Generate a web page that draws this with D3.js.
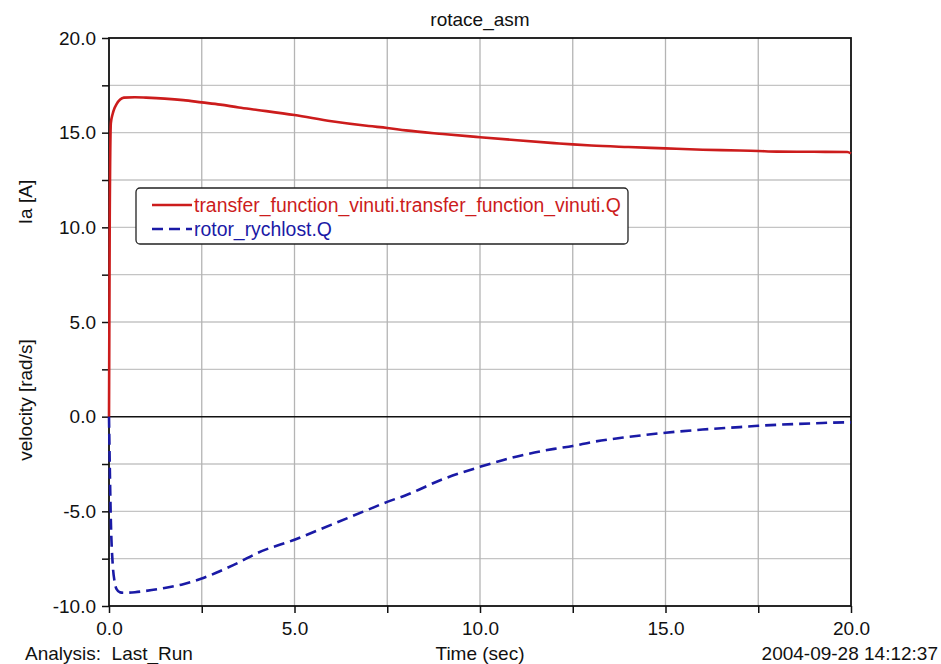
<!DOCTYPE html>
<html>
<head>
<meta charset="utf-8">
<script src="https://cdn.jsdelivr.net/npm/d3@7"></script>
<style>
  body { margin: 0; background: #fff; }
  text { font-family: "Liberation Sans", Arial, sans-serif; fill: #111; }
</style>
</head>
<body>
<div id="chart"></div>
<script>
// time samples (sec)
let time = [0, 0.02, 0.05, 0.1, 0.15, 0.2, 0.3, 0.4, 0.7, 1.0, 1.5, 2.0, 2.5, 3.0, 3.5, 4.0, 5.0, 6.0, 7.0, 7.5, 8.0, 9.0, 10.0, 11.0, 12.0, 12.5, 13.0, 14.0, 15.0, 16.0, 17.0, 17.5, 18.0, 19.0, 19.9, 20.0]
// Ia [A]
let current = [0, 10.5, 15.5, 16.0, 16.3, 16.5, 16.75, 16.85, 16.87, 16.85, 16.8, 16.72, 16.6, 16.48, 16.33, 16.2, 15.93, 15.6, 15.35, 15.25, 15.12, 14.93, 14.76, 14.6, 14.45, 14.38, 14.32, 14.24, 14.17, 14.1, 14.06, 14.03, 14.0, 13.99, 13.98, 13.9]
// velocity [rad/s]
let velocity = [0, -2.5, -5.5, -7.8, -8.7, -9.1, -9.28, -9.3, -9.27, -9.2, -9.05, -8.85, -8.55, -8.15, -7.7, -7.2, -6.5, -5.7, -4.9, -4.5, -4.15, -3.3, -2.65, -2.1, -1.7, -1.55, -1.35, -1.07, -0.85, -0.68, -0.55, -0.48, -0.43, -0.35, -0.3, -0.3]

let xTicks = [0, 5, 10, 15, 20]
let yTicks = [-10, -5, 0, 5, 10, 15, 20]

let series = [
  { name: 'transfer_function_vinuti.transfer_function_vinuti.Q', values: current, color: '#cc1c1c', dash: null },
  { name: 'rotor_rychlost.Q', values: velocity, color: '#1a1aa6', dash: '11,6' }
]

let width = 941,
  height = 664
let margin = { left: 109, right: 90, top: 38, bottom: 58 }

let svg = d3.select('#chart')
  .append('svg')
  .attr('width', width)
  .attr('height', height)

let x = d3.scaleLinear().domain([0, 20]).range([margin.left, width - margin.right])
let y = d3.scaleLinear().domain([-10, 20]).range([height - margin.bottom, margin.top])

let minor = d3.range(-10, 20.01, 2.5)
let minorX = d3.range(0, 20.01, 2.5)
let fmt = d => d3.format('.1f')(d).replace('\u2212', '-')

// grid
svg.append('g').selectAll('line.gy')
  .data(minor.filter(d => d > -10 && d < 20 && d !== 0))
  .enter().append('line')
  .attr('x1', x(0)).attr('x2', x(20))
  .attr('y1', d => y(d)).attr('y2', d => y(d))
  .attr('stroke', '#c4c4c4').attr('stroke-width', 1.3)

svg.append('g').selectAll('line.gx')
  .data(minorX.filter(d => d > 0 && d < 20))
  .enter().append('line')
  .attr('y1', y(-10)).attr('y2', y(20))
  .attr('x1', d => x(d)).attr('x2', d => x(d))
  .attr('stroke', '#b4b4b4').attr('stroke-width', 1.3)

// zero line
svg.append('line')
  .attr('x1', x(0)).attr('x2', x(20))
  .attr('y1', y(0)).attr('y2', y(0))
  .attr('stroke', '#111').attr('stroke-width', 1.5)

// axes
let yAxis = d3.axisLeft(y).tickValues(minor).tickSize(7)
  .tickFormat(d => yTicks.includes(d) ? fmt(d) : '')
let xAxis = d3.axisBottom(x).tickValues(minorX).tickSize(7)
  .tickFormat(d => xTicks.includes(d) ? fmt(d) : '')

let gy = svg.append('g').attr('transform', 'translate(' + x(0) + ',0)').call(yAxis)
let gx = svg.append('g').attr('transform', 'translate(0,' + y(-10) + ')').call(xAxis)
;[gy, gx].forEach(g => {
  g.select('.domain').remove()
  g.selectAll('line').attr('stroke', '#111').attr('stroke-width', 1.5)
  g.selectAll('text').style('font-size', '19px').attr('fill', '#111')
})
gy.selectAll('text').attr('x', -13)
gx.selectAll('text').attr('y', 29).attr('dy', 0)

// frame
svg.append('rect')
  .attr('x', x(0)).attr('y', y(20))
  .attr('width', x(20) - x(0)).attr('height', y(-10) - y(20))
  .attr('fill', 'none').attr('stroke', '#111').attr('stroke-width', 1.8)

// lines
let line = d3.line()
  .x((d, i) => x(time[i]))
  .y(d => y(d))
  .curve(d3.curveMonotoneX)

svg.selectAll('.curve')
  .data(series)
  .enter().append('path')
  .attr('class', 'curve')
  .attr('d', d => line(d.values))
  .attr('fill', 'none')
  .attr('stroke', d => d.color)
  .attr('stroke-width', 2.6)
  .attr('stroke-dasharray', d => d.dash)

// legend
let legend = svg.append('g').attr('transform', 'translate(136,188)')
legend.append('rect')
  .attr('width', 492).attr('height', 56).attr('rx', 4)
  .attr('fill', '#fff').attr('stroke', '#222').attr('stroke-width', 1.3)

let items = legend.selectAll('.item')
  .data(series)
  .enter().append('g')
  .attr('transform', (d, i) => 'translate(0,' + (17 + i * 24) + ')')
items.append('line')
  .attr('x1', 16).attr('x2', 56)
  .attr('stroke', d => d.color).attr('stroke-width', 2.6)
  .attr('stroke-dasharray', d => d.dash)
items.append('text')
  .attr('x', 58).attr('dy', '0.35em')
  .style('font-size', '19.4px')
  .style('fill', d => d.color)
  .text(d => d.name)

// titles
svg.append('text')
  .attr('x', 480).attr('y', 26)
  .attr('text-anchor', 'middle')
  .style('font-size', '19px')
  .text('rotace_asm')

svg.append('text')
  .attr('transform', 'translate(32,202) rotate(-90)')
  .attr('text-anchor', 'middle')
  .style('font-size', '19px')
  .text('Ia [A]')

svg.append('text')
  .attr('transform', 'translate(32,400) rotate(-90)')
  .attr('text-anchor', 'middle')
  .style('font-size', '19px')
  .text('velocity [rad/s]')

svg.append('text')
  .attr('x', 25).attr('y', 660)
  .style('font-size', '19px')
  .style('white-space', 'pre')
  .text('Analysis:  Last_Run')

svg.append('text')
  .attr('x', 480).attr('y', 660)
  .attr('text-anchor', 'middle')
  .style('font-size', '19px')
  .text('Time (sec)')

svg.append('text')
  .attr('x', 938).attr('y', 660)
  .attr('text-anchor', 'end')
  .style('font-size', '19px')
  .text('2004-09-28 14:12:37')
</script>
</body>
</html>
